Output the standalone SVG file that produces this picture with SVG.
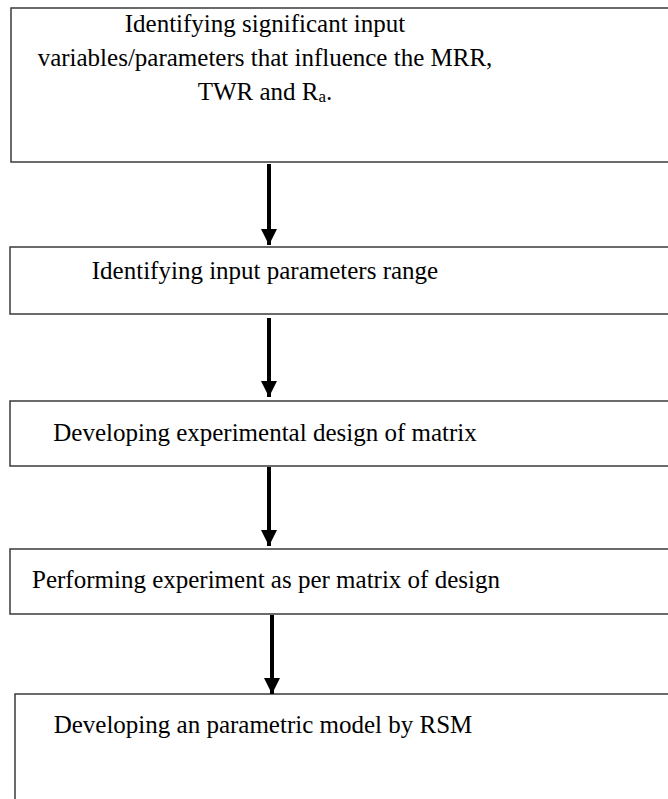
<svg xmlns="http://www.w3.org/2000/svg" width="668" height="799" viewBox="0 0 668 799">
<defs>
<style>
.box{fill:#fff;stroke:#3a3a3a;stroke-width:1.5}
.t{font-family:"Liberation Serif","Times New Roman",serif;font-size:25px;fill:#000;text-anchor:middle}
.arr{stroke:#000;stroke-width:4;fill:none}
</style>
<marker id="ah" viewBox="0 0 16 16" refX="16" refY="8" markerWidth="16" markerHeight="16" markerUnits="userSpaceOnUse" orient="auto">
<path d="M0,0 L16,8 L0,16 Z" fill="#000"/>
</marker>
</defs>
<rect width="668" height="799" fill="#fff"/>
<g id="n1">
<rect class="box" x="11" y="8" width="670" height="154"/>
<text class="t" x="265" y="32">Identifying significant input</text>
<text class="t" x="265" y="66">variables/parameters that influence the MRR,</text>
<text class="t" x="265" y="100">TWR and R<tspan font-size="17" dy="2">a</tspan><tspan dy="-2">.</tspan></text>
</g>
<g id="n2">
<rect class="box" x="10" y="247" width="670" height="67"/>
<text class="t" x="265" y="279">Identifying input parameters range</text>
</g>
<g id="n3">
<rect class="box" x="10" y="401" width="670" height="65"/>
<text class="t" x="265" y="441">Developing experimental design of matrix</text>
</g>
<g id="n4">
<rect class="box" x="10" y="549" width="670" height="65"/>
<text class="t" x="266" y="588">Performing experiment as per matrix of design</text>
</g>
<g id="n5">
<rect class="box" x="15" y="694" width="670" height="120"/>
<text class="t" x="263" y="733">Developing an parametric model by RSM</text>
</g>
<g id="connectors">
<line class="arr" x1="269" y1="164" x2="269" y2="245" marker-end="url(#ah)"/>
<line class="arr" x1="269" y1="318" x2="269" y2="397" marker-end="url(#ah)"/>
<line class="arr" x1="269" y1="467" x2="269" y2="546" marker-end="url(#ah)"/>
<line class="arr" x1="272" y1="615" x2="272" y2="694" marker-end="url(#ah)"/>
</g>
</svg>
